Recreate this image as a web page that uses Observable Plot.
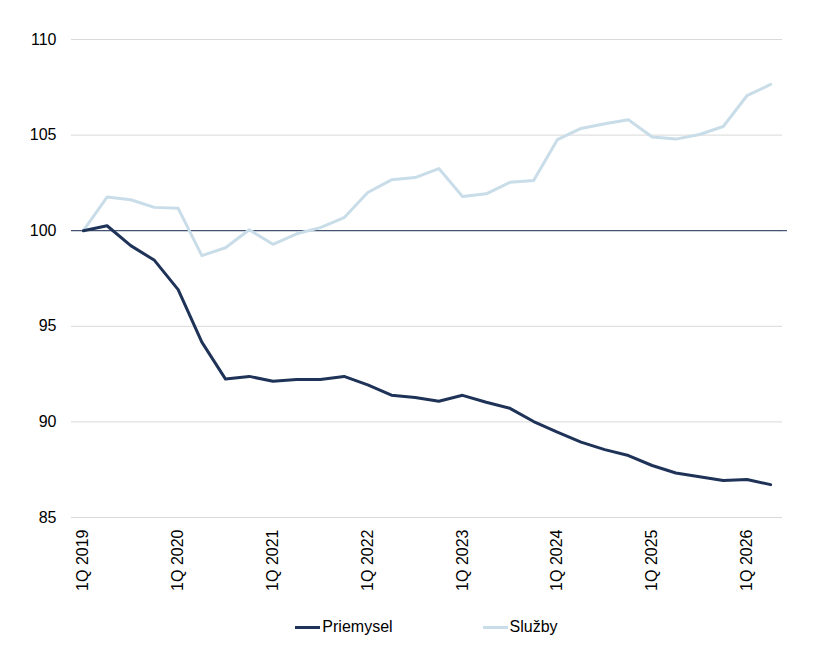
<!DOCTYPE html>
<html>
<head>
<meta charset="utf-8">
<script src="https://cdn.jsdelivr.net/npm/d3@7"></script>
<script src="https://cdn.jsdelivr.net/npm/@observablehq/plot@0.6"></script>
<style>
  html, body { margin: 0; padding: 0; background: #fff; }
  body { width: 820px; font-family: "Liberation Sans", Arial, sans-serif; }
  #legend { display: flex; justify-content: center; align-items: center; box-sizing: border-box;
            width: 820px; padding-left: 71px; padding-right: 38px; margin-top: 12px;
            font-size: 16px; line-height: 20px; color: #000; gap: 90px; }
  .item { display: flex; align-items: center; gap: 2px; }
  .sw { width: 25px; height: 3px; }
</style>
</head>
<body>
<div id="chart"></div>
<div id="legend"></div>
<script>
const quarters = [
  "1Q 2019","2Q 2019","3Q 2019","4Q 2019",
  "1Q 2020","2Q 2020","3Q 2020","4Q 2020",
  "1Q 2021","2Q 2021","3Q 2021","4Q 2021",
  "1Q 2022","2Q 2022","3Q 2022","4Q 2022",
  "1Q 2023","2Q 2023","3Q 2023","4Q 2023",
  "1Q 2024","2Q 2024","3Q 2024","4Q 2024",
  "1Q 2025","2Q 2025","3Q 2025","4Q 2025",
  "1Q 2026","2Q 2026"
];
const priemysel = [
  100.0, 100.26, 99.22, 98.45,
  96.92, 94.17, 92.24, 92.38,
  92.13, 92.22, 92.22, 92.38,
  91.94, 91.40, 91.28, 91.08,
  91.39, 91.03, 90.71, 90.02,
  89.46, 88.94, 88.55, 88.24,
  87.72, 87.33, 87.13, 86.93,
  86.99, 86.72
];
const sluzby = [
  100.0, 101.76, 101.62, 101.22,
  101.17, 98.70, 99.11, 100.05,
  99.29, 99.84, 100.16, 100.68,
  102.00, 102.66, 102.78, 103.25,
  101.79, 101.93, 102.53, 102.63,
  104.76, 105.35, 105.59, 105.80,
  104.90, 104.79, 105.03, 105.45,
  107.06, 107.65
];
const yTicks = [85, 90, 95, 100, 105, 110];
const xTickLabels = ["1Q 2019","1Q 2020","1Q 2021","1Q 2022","1Q 2023","1Q 2024","1Q 2025","1Q 2026"];
const seriesNames = ["Priemysel", "Služby"];
const colors = ["#1f3358", "#c9dde9"];

const rows = [];
quarters.forEach((q, i) => {
  rows.push({i, q, s: seriesNames[0], v: priemysel[i]});
  rows.push({i, q, s: seriesNames[1], v: sluzby[i]});
});
const tickIdx = xTickLabels.map(l => quarters.indexOf(l));

const chart = Plot.plot({
  width: 820,
  height: 605,
  marginLeft: 71,
  marginRight: 38,
  marginTop: 39,
  marginBottom: 88,
  style: { fontFamily: "'Liberation Sans', Arial, sans-serif", fontSize: "16px", color: "#000", background: "#fff" },
  x: { domain: [-0.5, quarters.length - 0.5] },
  y: { domain: [85, 110] },
  color: { domain: seriesNames, range: colors },
  marks: [
    Plot.gridY(yTicks, { stroke: "#d9d9d9", strokeOpacity: 1, strokeWidth: 1 }),
    Plot.ruleY([100], { stroke: "#1f3358", strokeWidth: 1, insetRight: -5 }),
    Plot.axisY(yTicks, { tickSize: 0, tickPadding: 15, label: null, fontSize: 16, fill: "#000" }),
    Plot.axisX(tickIdx, { tickSize: 0, tickPadding: 12, tickRotate: -90, label: null,
      tickFormat: i => quarters[i], fontSize: 16, fill: "#000" }),
    Plot.line(rows.filter(d => d.s === seriesNames[1]), { x: "i", y: "v", stroke: "s", strokeWidth: 3, strokeLinejoin: "round" }),
    Plot.line(rows.filter(d => d.s === seriesNames[0]), { x: "i", y: "v", stroke: "s", strokeWidth: 3, strokeLinejoin: "round" })
  ]
});
document.getElementById("chart").appendChild(chart);

const legend = document.getElementById("legend");
seriesNames.forEach((n, k) => {
  const it = document.createElement("div");
  it.className = "item";
  const sw = document.createElement("div");
  sw.className = "sw";
  sw.style.background = colors[k];
  const t = document.createElement("span");
  t.textContent = n;
  it.appendChild(sw); it.appendChild(t);
  legend.appendChild(it);
});
</script>
</body>
</html>
